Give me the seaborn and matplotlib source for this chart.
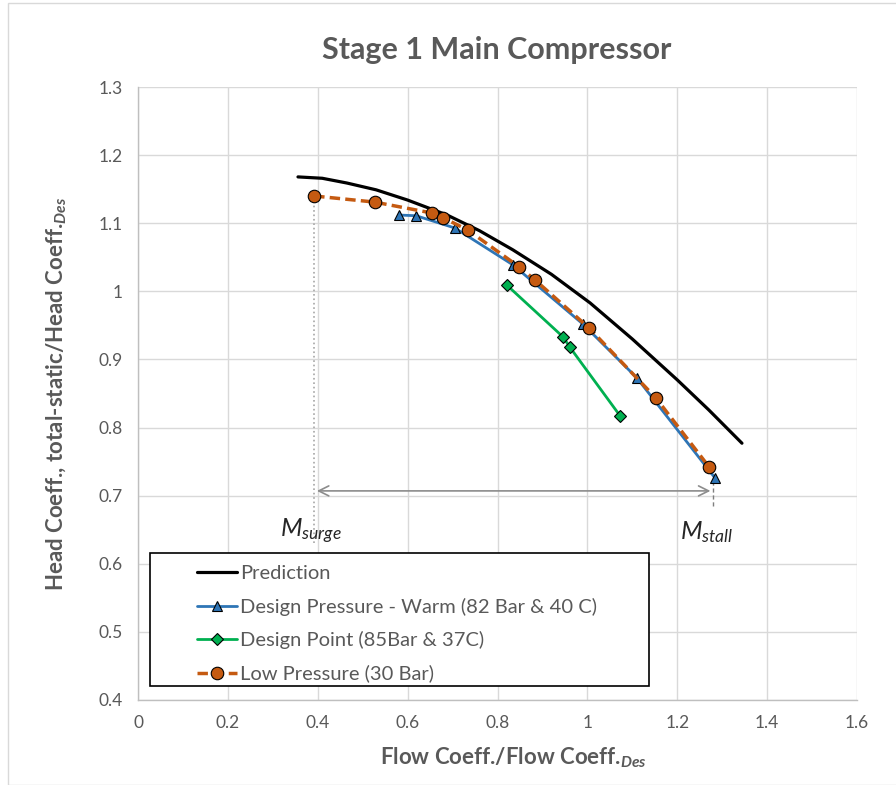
import matplotlib
matplotlib.use('Agg')
import matplotlib.pyplot as plt
import seaborn as sns
from matplotlib.lines import Line2D
from matplotlib.patches import Rectangle
from matplotlib.ticker import FuncFormatter

# Data
pred_x = [0.356, 0.41, 0.465, 0.53, 0.6, 0.688, 0.76, 0.834, 0.92, 1.006, 1.1, 1.2, 1.27, 1.344]
pred_y = [1.168, 1.166, 1.159, 1.149, 1.134, 1.112, 1.089, 1.061, 1.025, 0.983, 0.930, 0.870, 0.826, 0.777]

warm_x = [0.581, 0.619, 0.705, 0.834, 0.990, 1.110, 1.284]
warm_y = [1.112, 1.111, 1.093, 1.039, 0.952, 0.873, 0.726]

design_x = [0.821, 0.946, 0.961, 1.073]
design_y = [1.009, 0.933, 0.918, 0.817]

low_x = [0.392, 0.527, 0.654, 0.679, 0.734, 0.848, 0.883, 1.004, 1.153, 1.271]
low_y = [1.140, 1.131, 1.115, 1.108, 1.090, 1.036, 1.017, 0.946, 0.843, 0.742]

surge_x = 0.392
stall_x = 1.28
range_y = 0.707

labels = ['Prediction', 'Design Pressure - Warm (82 Bar & 40 C)',
          'Design Point (85Bar & 37C)', 'Low Pressure (30 Bar)']

BLUE = '#2E75B6'
GREEN = '#00B050'
ORANGE = '#C55A11'
GREY = '#595959'

sns.set_style('white')
plt.rcParams['font.family'] = ['Lato', 'DejaVu Sans']
plt.rcParams['mathtext.fontset'] = 'custom'
plt.rcParams['mathtext.rm'] = 'Lato'
plt.rcParams['mathtext.it'] = 'Lato:italic'
plt.rcParams['mathtext.bf'] = 'Lato:bold'
plt.rcParams['mathtext.bfit'] = 'Lato:italic:bold'

fig = plt.figure(figsize=(8.96, 7.85), dpi=100)
ax = fig.add_axes([138 / 896, 1 - 700 / 785, 719 / 896, 613 / 785])

# Series
sns.lineplot(x=pred_x, y=pred_y, ax=ax, color='black', linewidth=2.3, sort=False, estimator=None)
sns.lineplot(x=warm_x, y=warm_y, ax=ax, color=BLUE, linewidth=2, sort=False, estimator=None,
             marker='^', markersize=7.5, markerfacecolor=BLUE, markeredgecolor='black', markeredgewidth=0.8)
sns.lineplot(x=design_x, y=design_y, ax=ax, color=GREEN, linewidth=2, sort=False, estimator=None,
             marker='D', markersize=6, markerfacecolor=GREEN, markeredgecolor='black', markeredgewidth=0.8)
sns.lineplot(x=low_x, y=low_y, ax=ax, color=ORANGE, linewidth=2.5, sort=False, estimator=None,
             linestyle=(0, (3, 1.5)), marker='o', markersize=9, markerfacecolor=ORANGE,
             markeredgecolor='black', markeredgewidth=0.8)

# Surge / stall markers
ax.plot([surge_x, surge_x], [0.63, low_y[0]], color='#A6A6A6', linestyle=':', linewidth=1.2, zorder=1)
ax.plot([stall_x, stall_x], [0.685, warm_y[-1]], color='#7F7F7F', linestyle=(0, (3, 2)), linewidth=1, zorder=1)
ax.annotate('', xy=(surge_x, range_y), xytext=(stall_x, range_y),
            arrowprops=dict(arrowstyle='<->', color='#8C8C8C', lw=1.2, mutation_scale=18))
ax.text(0.316, 0.647, r'$M_{surge}$', fontsize=18, va='center', ha='left')
ax.text(1.206, 0.647, r'$M_{stall}$', fontsize=18, va='center', ha='left')

# Axes styling
ax.set_xlim(0, 1.6)
ax.set_ylim(0.4, 1.3)
ax.set_xticks([0, 0.2, 0.4, 0.6, 0.8, 1.0, 1.2, 1.4, 1.6])
ax.set_yticks([0.4, 0.5, 0.6, 0.7, 0.8, 0.9, 1.0, 1.1, 1.2, 1.3])
fmt = FuncFormatter(lambda v, p: f'{v:g}')
ax.xaxis.set_major_formatter(fmt)
ax.yaxis.set_major_formatter(fmt)
ax.grid(True, color='#D9D9D9', linewidth=1)
ax.set_axisbelow(True)
for s in ['top', 'right']:
    ax.spines[s].set_visible(False)
for s in ['left', 'bottom']:
    ax.spines[s].set_color('#BFBFBF')
    ax.spines[s].set_linewidth(1)
ax.tick_params(axis='both', labelsize=12.5, colors=GREY, length=0, pad=11)

ax.set_xlabel(r'Flow Coeff./Flow Coeff.$_{\mathbfit{Des}}$', fontsize=16, fontweight='bold',
              color=GREY)
ax.xaxis.set_label_coords(0.522, -0.075)
ax.set_ylabel(r'Head Coeff., total-static/Head Coeff.$_{\mathbfit{Des}}$', fontsize=16,
              fontweight='bold', color=GREY, labelpad=22)
fig.text(497 / 896, 1 - 50 / 785, 'Stage 1 Main Compressor', fontsize=22, fontweight='bold',
         color=GREY, ha='center', va='center')

# Legend with a square black box
box = Rectangle((150 / 896, 1 - 686 / 785), 499 / 896, 133 / 785, transform=fig.transFigure,
                facecolor='white', edgecolor='black', linewidth=1.2, zorder=5)
ax.add_artist(box)
box.set_clip_on(False)
handles = [
    Line2D([], [], color='black', linewidth=2.3),
    Line2D([], [], color=BLUE, linewidth=2, marker='^', markersize=7.5, markerfacecolor=BLUE,
           markeredgecolor='black', markeredgewidth=0.8),
    Line2D([], [], color=GREEN, linewidth=2, marker='D', markersize=6, markerfacecolor=GREEN,
           markeredgecolor='black', markeredgewidth=0.8),
    Line2D([], [], color=ORANGE, linewidth=2.5, linestyle=(0, (3, 1.5)), marker='o', markersize=9,
           markerfacecolor=ORANGE, markeredgecolor='black', markeredgewidth=0.8),
]
leg = fig.legend(handles, labels, loc='upper left', bbox_to_anchor=(197 / 896, 1 - 565 / 785),
                 frameon=False, fontsize=14.5, labelcolor=GREY, handlelength=2.0,
                 handletextpad=0.15, labelspacing=0.77, borderpad=0, borderaxespad=0)
leg.set_zorder(6)

# Chart area border
fig.patches.append(Rectangle((8 / 896, 0.0), 1.0, 1 - 3 / 785, transform=fig.transFigure,
                             facecolor='none', edgecolor='#D9D9D9', linewidth=1))

fig.savefig('out.png', dpi=100)
